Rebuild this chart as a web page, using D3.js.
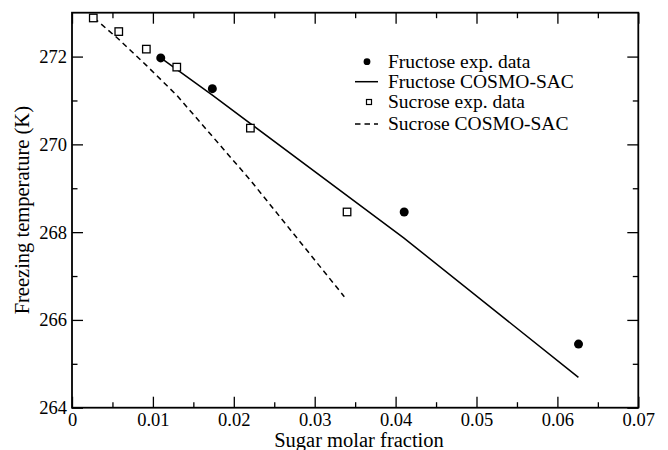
<!DOCTYPE html>
<html><head><meta charset="utf-8">
<script src="https://cdn.jsdelivr.net/npm/d3@7"></script>
<style>
body{margin:0;background:#fff;}
svg text{font-family:"Liberation Serif","Times New Roman",Times,"Nimbus Roman","DejaVu Serif",serif !important;}
</style></head>
<body>
<svg id="chart" width="668" height="450"></svg>
<script>
// Data
const fructoseExpX = [0.01097, 0.01735, 0.04106, 0.06261];
const fructoseExpY = [271.97, 271.27, 268.46, 265.45];
const fructoseCosmoX = [0.01097, 0.01735, 0.041, 0.0626];
const fructoseCosmoY = [271.97, 271.12, 267.87, 264.69];
const sucroseExpX = [0.00263, 0.00578, 0.00919, 0.01295, 0.02205, 0.0340];
const sucroseExpY = [272.88, 272.57, 272.17, 271.76, 270.37, 268.46];
const sucroseCosmoX = [0.00272, 0.00581, 0.00919, 0.01299, 0.02202, 0.03366];
const sucroseCosmoY = [272.88, 272.39, 271.80, 271.11, 269.19, 266.53];
const xTicks = [0, 0.01, 0.02, 0.03, 0.04, 0.05, 0.06, 0.07];
const xTickLabels = ["0", "0.01", "0.02", "0.03", "0.04", "0.05", "0.06", "0.07"];
const xMinor = [0.005, 0.015, 0.025, 0.035, 0.045, 0.055, 0.065];
const yTicks = [264, 266, 268, 270, 272];
const yTickLabels = ["264", "266", "268", "270", "272"];
const yMinor = [265, 267, 269, 271];
const legendLabels = ["Fructose exp. data", "Fructose COSMO-SAC", "Sucrose exp. data", "Sucrose COSMO-SAC"];

const L = 72, R = 638.3, T = 12.7, B = 407.7;
const svg = d3.select("#chart");
const x = d3.scaleLinear().domain([0, 0.07]).range([L, R]);
const y = d3.scaleLinear().domain([264, 273]).range([B, T]);
const TICK_FS = 18.5, LEG_FS = 19.5, TITLE_FS = 20.5;

function styleAxis(g){
  g.select(".domain").remove();
  g.attr("font-family", null);
  g.selectAll(".tick line").attr("stroke", "#000").attr("stroke-width", 1.3);
  g.selectAll("text").attr("font-size", TICK_FS).attr("fill", "#000");
}

// bottom axis
svg.append("g").attr("transform", `translate(0,${B})`)
  .call(d3.axisBottom(x).tickValues(xTicks).tickSize(-11).tickPadding(5)
    .tickFormat((d, i) => xTickLabels[i])).call(styleAxis);
svg.append("g").attr("transform", `translate(0,${B})`)
  .call(d3.axisBottom(x).tickValues(xMinor).tickSize(-5.5).tickFormat("")).call(styleAxis);
// top axis
svg.append("g").attr("transform", `translate(0,${T})`)
  .call(d3.axisTop(x).tickValues(xTicks).tickSize(-11).tickFormat("")).call(styleAxis);
svg.append("g").attr("transform", `translate(0,${T})`)
  .call(d3.axisTop(x).tickValues(xMinor).tickSize(-5.5).tickFormat("")).call(styleAxis);
// left axis
svg.append("g").attr("transform", `translate(${L},0)`)
  .call(d3.axisLeft(y).tickValues(yTicks).tickSize(-11).tickPadding(5)
    .tickFormat((d, i) => yTickLabels[i])).call(styleAxis);
svg.append("g").attr("transform", `translate(${L},0)`)
  .call(d3.axisLeft(y).tickValues(yMinor).tickSize(-5.5).tickFormat("")).call(styleAxis);
// right axis
svg.append("g").attr("transform", `translate(${R},0)`)
  .call(d3.axisRight(y).tickValues(yTicks).tickSize(-11).tickFormat("")).call(styleAxis);
svg.append("g").attr("transform", `translate(${R},0)`)
  .call(d3.axisRight(y).tickValues(yMinor).tickSize(-5.5).tickFormat("")).call(styleAxis);

// frame
svg.append("rect").attr("x", L).attr("y", T).attr("width", R - L).attr("height", B - T)
  .attr("fill", "none").attr("stroke", "#000").attr("stroke-width", 1.8);

const line = d3.line().x(d => x(d[0])).y(d => y(d[1]));

// Fructose COSMO
svg.append("path").datum(d3.zip(fructoseCosmoX, fructoseCosmoY)).attr("d", line)
  .attr("fill", "none").attr("stroke", "#000").attr("stroke-width", 1.5);
// Sucrose COSMO
svg.append("path").datum(d3.zip(sucroseCosmoX, sucroseCosmoY)).attr("d", line)
  .attr("fill", "none").attr("stroke", "#000").attr("stroke-width", 1.5)
  .attr("stroke-dasharray", "5.5,4");

// Fructose exp
svg.selectAll("circle.fe").data(d3.zip(fructoseExpX, fructoseExpY)).enter().append("circle")
  .attr("class", "fe").attr("cx", d => x(d[0])).attr("cy", d => y(d[1])).attr("r", 4.5).attr("fill", "#000");
// Sucrose exp
const sq = 7.5;
svg.selectAll("rect.se").data(d3.zip(sucroseExpX, sucroseExpY)).enter().append("rect")
  .attr("class", "se").attr("x", d => x(d[0]) - sq / 2).attr("y", d => y(d[1]) - sq / 2)
  .attr("width", sq).attr("height", sq).attr("fill", "#fff").attr("stroke", "#000").attr("stroke-width", 1.3);

// Legend
const lg = svg.append("g");
const rowsY = [61.7, 81.7, 102, 124];
const textX = 388;
lg.append("circle").attr("cx", 367).attr("cy", rowsY[0]).attr("r", 3.4).attr("fill", "#000");
lg.append("line").attr("x1", 355).attr("x2", 378).attr("y1", rowsY[1]).attr("y2", rowsY[1])
  .attr("stroke", "#000").attr("stroke-width", 1.5);
lg.append("rect").attr("x", 366.5).attr("y", rowsY[2] - 2.5).attr("width", 5).attr("height", 5)
  .attr("fill", "#fff").attr("stroke", "#000").attr("stroke-width", 1.2);
lg.append("line").attr("x1", 355).attr("x2", 378).attr("y1", rowsY[3]).attr("y2", rowsY[3])
  .attr("stroke", "#000").attr("stroke-width", 1.5).attr("stroke-dasharray", "5.5,4");
lg.selectAll("text").data(legendLabels).enter().append("text")
  .attr("x", textX).attr("y", (d, i) => rowsY[i]).attr("dy", "0.33em")
  .attr("font-size", LEG_FS).text(d => d);

// Axis titles
svg.append("text").attr("x", 359).attr("y", 447).attr("text-anchor", "middle")
  .attr("font-size", TITLE_FS).text("Sugar molar fraction");
svg.append("text").attr("transform", `translate(29,${(T + B) / 2}) rotate(-90)`)
  .attr("text-anchor", "middle").attr("font-size", TITLE_FS).text("Freezing temperature (K)");
</script>
</body></html>
